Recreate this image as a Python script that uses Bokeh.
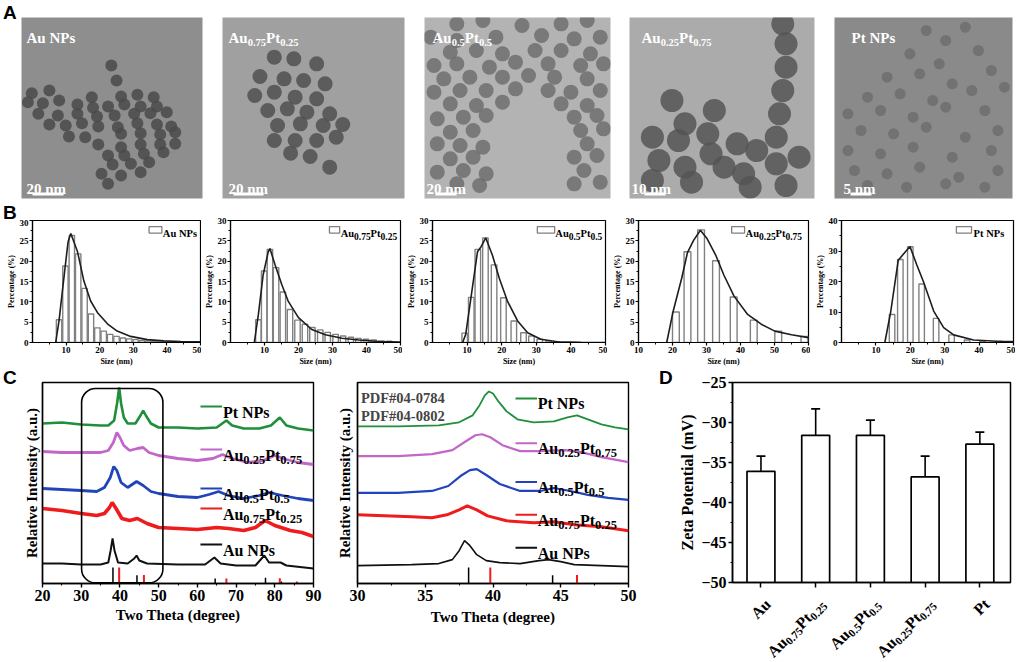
import math
from bokeh.plotting import figure
from bokeh.layouts import row, column
from bokeh.models import Range1d, FixedTicker, Label, BoxAnnotation, Whisker, ColumnDataSource, TeeHead, Div
from bokeh.embed import file_html
from bokeh.resources import INLINE

SERIF = "Liberation Serif"
SANS = "Liberation Sans"

# ---------------- data ----------------
name_au = [("Au NPs", "n")]
name_a75 = [("Au", "n"), ("0.75", "s"), ("Pt", "n"), ("0.25", "s")]
name_a50 = [("Au", "n"), ("0.5", "s"), ("Pt", "n"), ("0.5", "s")]
name_a25 = [("Au", "n"), ("0.25", "s"), ("Pt", "n"), ("0.75", "s")]
name_pt = [("Pt NPs", "n")]

# Panel A: TEM micrographs -- scale-bar texts and approximate particle centres
tem_scale_text = ["20 nm", "20 nm", "20 nm", "10 nm", "5 nm"]
tem1_px = [170, 178, 48, 75, 140, 185, 210, 235, 42, 65, 90, 118, 142, 165, 190, 215, 240, 58, 88, 118, 148, 175, 205, 230, 255,
           75, 100, 125, 150, 180, 210, 240, 262, 105, 130, 185, 215, 245, 268, 150, 185, 215, 245, 268, 165, 190, 220, 250,
           172, 200, 228, 155, 185, 215, 165]
tem1_py = [195, 240, 278, 270, 290, 288, 283, 290, 305, 308, 300, 312, 322, 318, 312, 318, 318, 340, 345, 340, 348, 345, 340, 338, 335,
           372, 375, 368, 378, 380, 368, 372, 378, 408, 410, 400, 398, 402, 395, 432, 440, 432, 432, 430, 465, 465, 460, 455,
           492, 490, 485, 520, 525, 515, 550]
tem2_px = [420, 450, 485, 398, 435, 465, 498, 390, 420, 452, 485, 410, 440, 470, 505, 425, 460, 495, 525, 420, 452, 485, 515, 445, 475, 505]
tem2_py = [170, 175, 190, 228, 235, 240, 250, 285, 275, 290, 295, 330, 325, 335, 340, 375, 370, 375, 372, 420, 420, 420, 410, 458, 468, 500]
tem3_px = [700, 740, 800, 860, 900, 660, 700, 760, 830, 880, 920, 690, 730, 770, 820, 860, 905, 665, 700, 750, 790, 840, 890, 925,
           680, 720, 770, 810, 850, 900, 665, 705, 745, 790, 840, 875, 920, 690, 730, 770, 860, 900, 670, 710, 745, 880, 915,
           690, 725, 890, 925, 670, 705, 740, 900, 690, 725, 880, 915, 670, 710, 745, 895, 700, 735, 880, 920]
tem3_py = [70, 60, 75, 70, 60, 110, 120, 110, 105, 115, 110, 155, 150, 160, 150, 150, 160, 195, 190, 200, 185, 190, 195, 190,
           235, 230, 230, 225, 230, 235, 275, 270, 270, 265, 270, 275, 270, 310, 315, 305, 310, 315, 355, 350, 345, 350, 345,
           395, 390, 390, 385, 430, 435, 440, 430, 475, 470, 470, 465, 515, 510, 520, 510, 550, 555, 550, 545]
tem4_px = [1200, 1205, 1205, 1200, 1195, 1190, 1030, 1095, 1050, 1000, 1040, 1085, 1130, 1090, 1010, 1050, 1110, 1160, 1190,
           1225, 1140, 1000, 1060, 1150, 1205]
tem4_py = [70, 130, 200, 270, 340, 410, 300, 330, 370, 410, 420, 400, 430, 460, 480, 500, 500, 450, 490, 470, 520, 540, 545, 560, 555]
tem5_px = [1420, 1450, 1480, 1395, 1440, 1500, 1360, 1410, 1460, 1520, 1330, 1380, 1430, 1490, 1540, 1300, 1350, 1400, 1450,
           1510, 1320, 1370, 1420, 1480, 1530, 1300, 1350, 1400, 1460, 1520, 1310, 1360, 1410, 1470, 1530, 1330, 1390, 1450, 1510]
tem5_py = [90, 120, 80, 160, 190, 150, 230, 220, 250, 210, 290, 280, 300, 270, 260, 340, 330, 350, 320, 330, 390, 400, 380, 410,
           390, 450, 460, 440, 470, 450, 510, 520, 500, 530, 510, 555, 560, 550, 560]

# Panel B: size distributions (bar centre nm, percentage) and fitted curves
h1_size = [7.9, 9.8, 11.7, 13.6, 15.5, 17.4, 19.3, 21.2, 23.1, 25.0, 26.9, 28.8, 30.7, 32.6, 34.5, 36.4, 38.3, 40.2, 42.1]
h1_pct = [5.6, 18.8, 26.3, 21.8, 13.3, 7.0, 3.6, 2.8, 2.0, 1.5, 1.1, 0.9, 0.7, 0.5, 0.4, 0.3, 0.2, 0.15, 0.1]
h1_fit_x = [6.9, 7.9, 8.9, 9.9, 10.6, 11.4, 13.4, 15.3, 17.3, 19.3, 22.3, 25.2, 29.2, 34.2, 39.1, 44.1, 50.0]
h1_fit_y = [0, 5.4, 12.7, 19.9, 24.8, 26.8, 22.3, 15.1, 10.2, 7.4, 4.6, 2.8, 1.5, 0.7, 0.4, 0.25, 0.15]

h2_size = [8.2, 9.9, 11.6, 13.4, 15.4, 17.5, 19.7, 21.9, 24.1, 26.4, 28.6, 30.9, 33.1, 35.4, 37.6, 39.9, 42.1, 44.4, 46.7]
h2_pct = [5.6, 17.6, 22.9, 18.4, 12.4, 8.1, 5.5, 4.5, 3.7, 3.1, 2.5, 2.0, 1.6, 1.3, 1.0, 0.8, 0.6, 0.4, 0.3]
h2_fit_x = [7.0, 8.2, 9.6, 11.1, 11.6, 13.1, 15.1, 17.0, 20.0, 23.9, 27.9, 32.8, 37.7, 43.6, 50.0]
h2_fit_y = [0, 6.9, 16.6, 22.3, 23.1, 19.1, 14.2, 10.1, 6.1, 3.2, 1.9, 1.05, 0.6, 0.25, 0.1]

h3_size = [9.3, 11.2, 13.1, 15.3, 17.8, 20.5, 23.5, 26.3, 28.6, 31.0, 33.5, 36.0]
h3_pct = [2.3, 11.1, 22.9, 25.7, 19.1, 11.0, 5.3, 2.4, 1.6, 0.8, 0.4, 0.2]
h3_fit_x = [8.7, 9.6, 11.1, 13.0, 14.0, 15.4, 17.3, 19.3, 21.7, 24.6, 27.5, 31.3, 36.1, 42.9, 50.0]
h3_fit_y = [0, 2.0, 10.9, 22.3, 23.5, 25.7, 21.5, 15.8, 10.1, 5.3, 2.4, 0.8, 0.2, 0.05, 0.0]

h4_size = [21.0, 24.4, 28.4, 32.8, 38.0, 43.9, 51.1, 58.8]
h4_pct = [7.5, 22.3, 27.7, 20.1, 11.2, 5.5, 2.8, 1.5]
h4_fit_x = [18.3, 20.2, 22.7, 24.4, 26.2, 28.2, 30.2, 32.7, 35.1, 38.1, 42.1, 46.1, 50.1, 55.0, 60.0]
h4_fit_y = [0, 7.7, 15.8, 22.1, 25.1, 27.6, 25.5, 21.5, 16.6, 11.4, 6.9, 4.5, 2.8, 1.9, 1.2]

h5_size = [14.7, 17.1, 20.0, 23.3, 27.5, 32.0, 36.5, 41.0, 46.0]
h5_pct = [9.2, 27.2, 31.4, 19.2, 7.9, 2.5, 0.8, 0.5, 0.4]
h5_fit_x = [12.6, 14.3, 16.5, 19.9, 21.9, 23.8, 26.8, 29.7, 32.6, 38.4, 45.2, 50.0]
h5_fit_y = [0, 10.0, 27.0, 31.5, 25.4, 20.0, 10.3, 4.9, 2.5, 0.8, 0.4, 0.3]

# Panel C (left): XRD 20-90 deg, offset intensities (a.u.)
w_pt_x = [20, 25, 30, 35, 37, 38.5, 39.3, 39.8, 40.3, 41, 42, 44, 45.3, 46, 46.7, 48, 50, 55, 60, 65, 67.5, 69, 72, 76, 79, 81.3, 83, 86, 90]
w_pt_y = [160, 161, 159, 158, 158, 163, 181, 196, 180, 166, 160, 160, 168, 173, 168, 160, 156, 156, 155, 156, 163, 158, 155, 155, 158, 166, 158, 155, 153]
w_a25_x = [20, 25, 30, 35, 37, 38.3, 39.2, 40, 41, 42.5, 44.5, 46, 47.5, 50, 55, 60, 64, 66.5, 69, 73, 77, 80, 83, 86, 90]
w_a25_y = [132, 131, 131, 131, 133, 141, 151, 146, 138, 133, 135, 136, 131, 128, 125, 123, 125, 129, 125, 121, 123, 128, 124, 121, 119]
w_a50_x = [20, 25, 30, 34, 36, 37.5, 38.4, 39.2, 40.3, 42, 44.3, 46, 48, 50, 55, 60, 63, 65.5, 68, 72, 76, 78.5, 82, 86, 90]
w_a50_y = [95, 94, 93, 92, 96, 106, 117, 113, 101, 96, 102, 98, 92, 90, 87, 86, 89, 92, 88, 85, 88, 91, 88, 85, 83]
w_a75_x = [20, 25, 30, 34, 36, 37.3, 38, 39, 40.5, 42.5, 44.5, 47, 50, 55, 60, 65, 68, 72, 75, 77.5, 80, 84, 87, 90]
w_a75_y = [75, 73, 70, 68, 70, 76, 81, 75, 65, 63, 65, 60, 56, 55, 54, 56, 55, 53, 56, 63, 58, 53, 51, 47]
w_au_x = [20, 25, 30, 35, 37, 37.6, 38.1, 38.6, 39.5, 42, 43.7, 44.3, 45, 47, 55, 62, 64.4, 66, 70, 75, 77.3, 78.5, 81.5, 83, 90]
w_au_y = [20, 20, 19, 19, 21, 33, 45, 33, 21, 20, 25, 28, 23, 20, 19, 19, 26, 20, 18, 18, 28, 21, 21, 18, 15]

# Panel C (middle): XRD 30-50 deg
n_pt_x = [30, 33, 36, 37.5, 38.5, 39, 39.4, 39.7, 40, 40.4, 41, 41.8, 43, 44.5, 45.5, 46.2, 47, 48, 49, 50]
n_pt_y = [158, 158, 159, 162, 169, 179, 189, 193, 191, 183, 173, 165, 162, 163, 167, 169, 165, 160, 157, 155]
n_a25_x = [30, 33, 35.5, 37, 38, 38.7, 39.2, 39.8, 40.7, 42, 43.5, 45.3, 46.5, 48, 50]
n_a25_y = [128, 128, 130, 134, 143, 149, 150, 147, 139, 133, 133, 134, 132, 127, 122]
n_a50_x = [30, 33, 35.5, 36.7, 37.6, 38.3, 38.8, 39.5, 40.5, 42, 43.5, 44.5, 45.7, 47, 48.5, 50]
n_a50_y = [91, 91, 93, 98, 108, 114, 115, 109, 100, 93, 93, 96, 93, 89, 86, 84]
n_a75_x = [30, 32, 34, 35.5, 36.6, 37.5, 38.1, 38.8, 39.6, 41, 43, 44.5, 46, 48, 50]
n_a75_y = [69, 68, 67, 66, 69, 74, 78, 74, 68, 63, 61, 62, 59, 57, 53]
n_au_x = [30, 34, 36, 37, 37.5, 37.9, 38.3, 38.8, 39.5, 40.5, 42, 43.4, 44.1, 45, 46, 48, 50]
n_au_y = [18, 19, 20, 24, 33, 43, 38, 29, 23, 21, 20, 23, 24, 22, 19, 18, 17]

# reference patterns: Au PDF#04-0784 (black), Pt PDF#04-0802 (red)
au_ref_2theta = [38.2, 44.4, 64.6, 77.6, 81.7]
au_ref_int = [100, 52, 32, 36, 12]
pt_ref_2theta = [39.8, 46.2, 67.5, 81.3, 85.7]
pt_ref_int = [100, 53, 31, 33, 12]

# Panel D: zeta potential
zeta_names = [[("Au", "n")], [("Au", "n"), ("0.75", "s"), ("Pt", "n"), ("0.25", "s")],
              [("Au", "n"), ("0.5", "s"), ("Pt", "n"), ("0.5", "s")],
              [("Au", "n"), ("0.25", "s"), ("Pt", "n"), ("0.75", "s")], [("Pt", "n")]]
zeta_mean = [-36.1, -31.6, -31.6, -36.8, -32.7]
zeta_sd = [1.9, 3.3, 1.9, 2.6, 1.5]

# ---------------- helpers ----------------
CW = {"A": 722, "u": 556, "P": 611, "t": 333, "N": 722, "s": 389, ".": 250, " ": 250, "n": 556, "m": 833}


def tw(s, size):
    return sum(CW.get(c, 500) for c in s) * size / 1000.0


def rich(p, x, y, segs, size, color="black", angle=0.0, align="left",
         font=SERIF, sub_scale=0.75, sub_drop=0.28, x_offset=0.0, y_offset=0.0):
    sizes = [size * sub_scale if k == "s" else size for _, k in segs]
    widths = [tw(t, s) for (t, _), s in zip(segs, sizes)]
    total = sum(widths)
    cur = -total if align == "right" else 0.0
    ca, sa = math.cos(angle), math.sin(angle)
    for (t, k), s, w in zip(segs, sizes, widths):
        dd = size * sub_drop if k == "s" else 0.0
        dx = cur * ca + dd * sa
        dy = cur * sa - dd * ca
        p.add_layout(Label(x=x, y=y, x_offset=x_offset + dx, y_offset=y_offset + dy, text=t, angle=angle,
                           text_align="left", text_baseline="alphabetic", text_font=font,
                           text_font_style="bold", text_font_size=f"{s:.1f}px", text_color=color))
        cur += w


def style_axis(ax, tick_fs, label_fs, tick_out=3, minor_out=2, lab_sd=2, axlab_sd=2, lw=1.2):
    ax.axis_line_width = lw
    ax.major_tick_line_width = lw
    ax.minor_tick_line_width = lw * 0.8
    ax.major_tick_in = 0
    ax.major_tick_out = tick_out
    ax.minor_tick_in = 0
    ax.minor_tick_out = minor_out
    ax.major_label_text_font = SERIF
    ax.major_label_text_font_style = "bold"
    ax.major_label_text_font_size = f"{tick_fs}px"
    ax.major_label_text_color = "black"
    ax.axis_label_text_font = SERIF
    ax.axis_label_text_font_style = "bold"
    ax.axis_label_text_font_size = f"{label_fs}px"
    ax.axis_label_text_color = "black"
    ax.major_label_standoff = lab_sd
    ax.axis_label_standoff = axlab_sd


def base_fig(width, height, lb, rb, tb, bb, xr, yr, **kw):
    p = figure(width=width, height=height, min_border_left=lb, min_border_right=rb,
               min_border_top=tb, min_border_bottom=bb, x_range=Range1d(*xr), y_range=Range1d(*yr),
               toolbar_location=None, output_backend="svg", **kw)
    p.grid.grid_line_color = None
    p.outline_line_color = "black"
    p.outline_line_width = 1.2
    p.background_fill_color = "white"
    p.border_fill_color = "white"
    return p


def letter_div(letter, width, height, pad_left, pad_top):
    return Div(text=letter, width=width, height=height,
               styles={"font-family": SANS, "font-weight": "bold", "font-size": "19px", "line-height": "19px",
                       "color": "black", "box-sizing": "border-box", "padding-left": f"{pad_left}px",
                       "padding-top": f"{pad_top}px", "margin": "0px", "overflow": "visible"})


# ---------------- row A : TEM ----------------
tem_names = [name_au, name_a75, name_a50, name_a25, name_pt]
tem_parts = [(tem1_px, tem1_py), (tem2_px, tem2_py), (tem3_px, tem3_py), (tem4_px, tem4_py), (tem5_px, tem5_py)]
tem_bg = ["#8e8e8e", "#a0a0a0", "#b3b3b3", "#ababab", "#8a8a8a"]
tem_pc = ["#4a4a4a", "#505050", "#6a6a6a", "#555555", "#5a5a5a"]
tem_psize = [12, 15, 15, 23, 11]
tem_palpha = [0.85, 0.85, 0.8, 0.85, 0.5]
tem_w = [191, 202, 205, 205, 191]
tem_lb = [0, 10, 10, 10, 10]
tem_rb = [10, 10, 9, 10, 3]
tem_left = [21, 222, 424, 629, 834]
tem_name_x = [5, 6, 8, 12, 17]
tem_sc_x = [5, 6, 2, 2, 9]
tem_bar = [(11, 42), (11, 41), (11, 32), (15, 36), (16, 37)]
TOP_A, BOT_A = 17, 198
FH_A = BOT_A - TOP_A
rowA = [letter_div("A", 21, 200, 3, 3)]
for i in range(5):
    fw = tem_w[i] - tem_lb[i] - tem_rb[i]
    p = figure(width=tem_w[i], height=200, min_border_left=tem_lb[i], min_border_right=tem_rb[i],
               min_border_top=TOP_A, min_border_bottom=200 - BOT_A, x_range=Range1d(0, fw), y_range=Range1d(0, FH_A),
               x_axis_location=None, y_axis_location=None, toolbar_location=None, output_backend="svg")
    p.grid.grid_line_color = None
    p.outline_line_color = None
    p.background_fill_color = tem_bg[i]
    p.border_fill_color = "white"
    zx, zy = tem_parts[i]
    p.scatter([v / 1.534 - tem_left[i] for v in zx], [BOT_A - v / 3.0 for v in zy], size=tem_psize[i],
              marker="circle", fill_color=tem_pc[i], fill_alpha=tem_palpha[i], line_color=None)
    rich(p, tem_name_x[i], FH_A - 20, tem_names[i], 15, color="white", sub_scale=0.7, sub_drop=0.3)
    p.add_layout(Label(x=tem_sc_x[i], y=10, text=tem_scale_text[i], text_font=SERIF,
                       text_font_style="bold", text_font_size="15px", text_color="white",
                       text_baseline="alphabetic"))
    p.add_layout(BoxAnnotation(left=tem_bar[i][0], right=tem_bar[i][1], bottom=3.0, top=6.0,
                               fill_color="white", fill_alpha=1, line_color=None))
    rowA.append(p)

# ---------------- row B : histograms ----------------
hist_data = [
    (h1_size, h1_pct, h1_fit_x, h1_fit_y, (0, 50), (0, 30), name_au, (34.7, 38.5), 38.8, 1.6),
    (h2_size, h2_pct, h2_fit_x, h2_fit_y, (0, 50), (0, 30), name_a75, (29.1, 32.1), 32.4, 1.6),
    (h3_size, h3_pct, h3_fit_x, h3_fit_y, (0, 50), (0, 30), name_a50, (30.3, 35.3), 35.5, 1.6),
    (h4_size, h4_pct, h4_fit_x, h4_fit_y, (10, 60), (0, 30), name_a25, (37.4, 41.2), 41.5, 2.0),
    (h5_size, h5_pct, h5_fit_x, h5_fit_y, (0, 50), (0, 40), name_pt, (33.4, 37.8), 38.4, 1.6),
]
hist_w = [201, 201, 205, 203, 205]
hist_lb = [32, 20, 30, 31, 31]
hist_rb = [1, 2, 2, 2, 2]
rowB = []
for i, (xs, ys, fx, fy, xr, yr, nm, box, tx, bw) in enumerate(hist_data):
    top_b = 1 if i == 0 else 20
    h = 149 if i == 0 else 168
    p = base_fig(hist_w[i], h, hist_lb[i], hist_rb[i], top_b, 24, xr, yr,
                 x_axis_label="Size (nm)", y_axis_label="Percentage (%)")
    p.vbar(x=xs, top=ys, bottom=0, width=bw, fill_color="white", line_color="#808080", line_width=1.4)
    p.line(fx, fy, line_color="#1e1e1e", line_width=1.6)
    xt = list(range(xr[0], xr[1] + 1, 10))
    major = [t for t in xt if t != 0]
    p.xaxis.ticker = FixedTicker(ticks=major, minor_ticks=[t + 5 for t in xt[:-1]])
    if yr[1] == 40:
        p.yaxis.ticker = FixedTicker(ticks=[0, 10, 20, 30, 40], minor_ticks=[5, 15, 25, 35])
    else:
        p.yaxis.ticker = FixedTicker(ticks=[0, 5, 10, 15, 20, 25, 30], minor_ticks=[2.5, 7.5, 12.5, 17.5, 22.5, 27.5])
    for ax in p.axis:
        style_axis(ax, 9, 8, tick_out=3, minor_out=2, lab_sd=1, axlab_sd=1)
    ytop = yr[1]
    b0 = ytop * 0.897
    b1 = ytop * 0.95
    p.quad(left=[box[0]], right=[box[1]], bottom=[b0], top=[b1], fill_color="white",
           line_color="#808080", line_width=1.3)
    rich(p, tx, b0, nm, 10.5, sub_scale=0.9, sub_drop=0.3)
    if i == 0:
        p = column(letter_div("B", 201, 19, 3, 3), p)
    rowB.append(p)

# ---------------- row C ----------------
colors = {"pt": "#1f8f3c", "a25": "#c266c8", "a50": "#2244bb", "a75": "#ee1c1c", "au": "#111111"}

# C left
c1 = base_fig(310, 292, 22, 17, 14, 77, (20, 90), (0, 201),
              x_axis_label="Two Theta (degree)", y_axis_label="Relative Intensity (a.u.)")
c1.line(w_pt_x, w_pt_y, line_color=colors["pt"], line_width=2.6)
c1.line(w_a25_x, w_a25_y, line_color=colors["a25"], line_width=2.8)
c1.line(w_a50_x, w_a50_y, line_color=colors["a50"], line_width=2.8)
c1.line(w_a75_x, w_a75_y, line_color=colors["a75"], line_width=3.6)
c1.line(w_au_x, w_au_y, line_color=colors["au"], line_width=2.0)
c1.segment(x0=au_ref_2theta, x1=au_ref_2theta, y0=[0] * 5, y1=[v * 0.16 for v in au_ref_int],
           line_color="black", line_width=1.5)
c1.segment(x0=pt_ref_2theta, x1=pt_ref_2theta, y0=[0] * 5, y1=[v * 0.16 for v in pt_ref_int],
           line_color="#ee1c1c", line_width=2.0)
c1.add_layout(BoxAnnotation(left=30.1, right=51.1, bottom=0.6, top=195, fill_alpha=0,
                            line_color="black", line_alpha=1.0, line_width=1.6, border_radius=14))
c1.xaxis.ticker = FixedTicker(ticks=list(range(20, 91, 10)), minor_ticks=list(range(25, 90, 10)))
c1.yaxis.ticker = FixedTicker(ticks=[])
for ax in c1.axis:
    style_axis(ax, 16, 15, tick_out=4, minor_out=2, lab_sd=2, axlab_sd=3, lw=1.4)
c1.yaxis.major_tick_out = 0
c1.yaxis.minor_tick_out = 0
c1.outline_line_width = 1.4
leg_names = [name_pt, name_a25, name_a50, name_a75, name_au]
leg_cols = [colors["pt"], colors["a25"], colors["a50"], colors["a75"], colors["au"]]
c1_leg_y = [177, 134, 95, 75, 39]
for nm, col, yy in zip(leg_names, leg_cols, c1_leg_y):
    c1.segment(x0=[60.8], x1=[66.4], y0=[yy], y1=[yy], line_color=col, line_width=2)
    rich(c1, 66.6, yy - 5.5, nm, 16, sub_scale=0.78, sub_drop=0.3)

# C middle
c2 = base_fig(320, 292, 27, 22, 14, 77, (30, 50), (0, 202),
              x_axis_label="Two Theta (degree)", y_axis_label="Relative Intensity (a.u.)")
c2.line(n_pt_x, n_pt_y, line_color=colors["pt"], line_width=1.8)
c2.line(n_a25_x, n_a25_y, line_color=colors["a25"], line_width=2.2)
c2.line(n_a50_x, n_a50_y, line_color=colors["a50"], line_width=2.2)
c2.line(n_a75_x, n_a75_y, line_color=colors["a75"], line_width=3.0)
c2.line(n_au_x, n_au_y, line_color=colors["au"], line_width=1.6)
c2.segment(x0=au_ref_2theta, x1=au_ref_2theta, y0=[0] * 5, y1=[v * 0.16 for v in au_ref_int],
           line_color="black", line_width=1.5)
c2.segment(x0=pt_ref_2theta, x1=pt_ref_2theta, y0=[0] * 5, y1=[v * 0.16 for v in pt_ref_int],
           line_color="#ee1c1c", line_width=2.0)
c2.xaxis.ticker = FixedTicker(ticks=[30, 35, 40, 45, 50], minor_ticks=[32.5, 37.5, 42.5, 47.5])
c2.yaxis.ticker = FixedTicker(ticks=[])
for ax in c2.axis:
    style_axis(ax, 16, 15, tick_out=4, minor_out=2, lab_sd=2, axlab_sd=5, lw=1.4)
c2.yaxis.major_tick_out = 0
c2.yaxis.minor_tick_out = 0
c2.outline_line_width = 1.4
c2.add_layout(Label(x=30.25, y=186, text="PDF#04-0784", text_font=SERIF, text_font_style="bold",
                    text_font_size="14.5px", text_baseline="alphabetic"))
c2.add_layout(Label(x=30.25, y=168, text="PDF#04-0802", text_font=SERIF, text_font_style="bold",
                    text_font_size="14.5px", text_baseline="alphabetic"))
c2_leg_y = [186, 141, 102, 69, 36]
for nm, col, yy in zip(leg_names, leg_cols, c2_leg_y):
    c2.segment(x0=[41.66], x1=[43.25], y0=[yy], y1=[yy], line_color=col, line_width=2)
    rich(c2, 43.3, yy - 5.5, nm, 16, sub_scale=0.78, sub_drop=0.3)

# D
D_W, D_LB, D_RB = 342, 59, 5
d = base_fig(D_W, 224, D_LB, D_RB, 14, 10, (0.48, 5.56), (-50, -25), y_axis_label="Zeta Potential (mV)")
cats = [1, 2, 3, 4, 5]
d.vbar(x=cats, top=zeta_mean, bottom=-50, width=0.51, fill_color="white", line_color="black", line_width=1.7)
src = ColumnDataSource(dict(x=cats, up=[m + s for m, s in zip(zeta_mean, zeta_sd)],
                            lo=[m - s for m, s in zip(zeta_mean, zeta_sd)]))
d.add_layout(Whisker(source=src, base="x", upper="up", lower="lo", line_color="black", line_width=1.6,
                     upper_head=TeeHead(size=9, line_width=1.6, line_color="black"),
                     lower_head=TeeHead(size=9, line_width=1.6, line_color="black")))
d.xaxis.ticker = FixedTicker(ticks=cats)
d.yaxis.ticker = FixedTicker(ticks=[-50, -45, -40, -35, -30, -25],
                             minor_ticks=[-47.5, -42.5, -37.5, -32.5, -27.5])
for ax in d.axis:
    style_axis(ax, 16, 16, tick_out=4, minor_out=2, lab_sd=2, axlab_sd=2, lw=1.5)
d.xaxis.major_tick_out = 5
d.xaxis.major_label_text_font_size = "1px"
d.xaxis.major_label_text_color = None
d.xaxis.major_label_standoff = 0
d.outline_line_width = 1.5
LAB_H = 68
d_lab = figure(width=D_W, height=LAB_H, min_border_left=D_LB, min_border_right=D_RB, min_border_top=0,
               min_border_bottom=0, x_range=d.x_range, y_range=Range1d(0, LAB_H), x_axis_location=None,
               y_axis_location=None, toolbar_location=None, output_backend="svg")
d_lab.grid.grid_line_color = None
d_lab.outline_line_color = None
for c, nm in zip(cats, zeta_names):
    rich(d_lab, c, LAB_H - 9, nm, 16, angle=math.pi / 4, align="right", sub_scale=0.7, sub_drop=0.28, x_offset=7)
d_col = column(d, d_lab)

p = column(row(*rowA), row(*rowB),
           row(letter_div("C", 20, 292, 3, 0), c1, c2, letter_div("D", 23, 292, 9, 0), d_col))
open("out.html", "w").write(file_html(p, INLINE))
